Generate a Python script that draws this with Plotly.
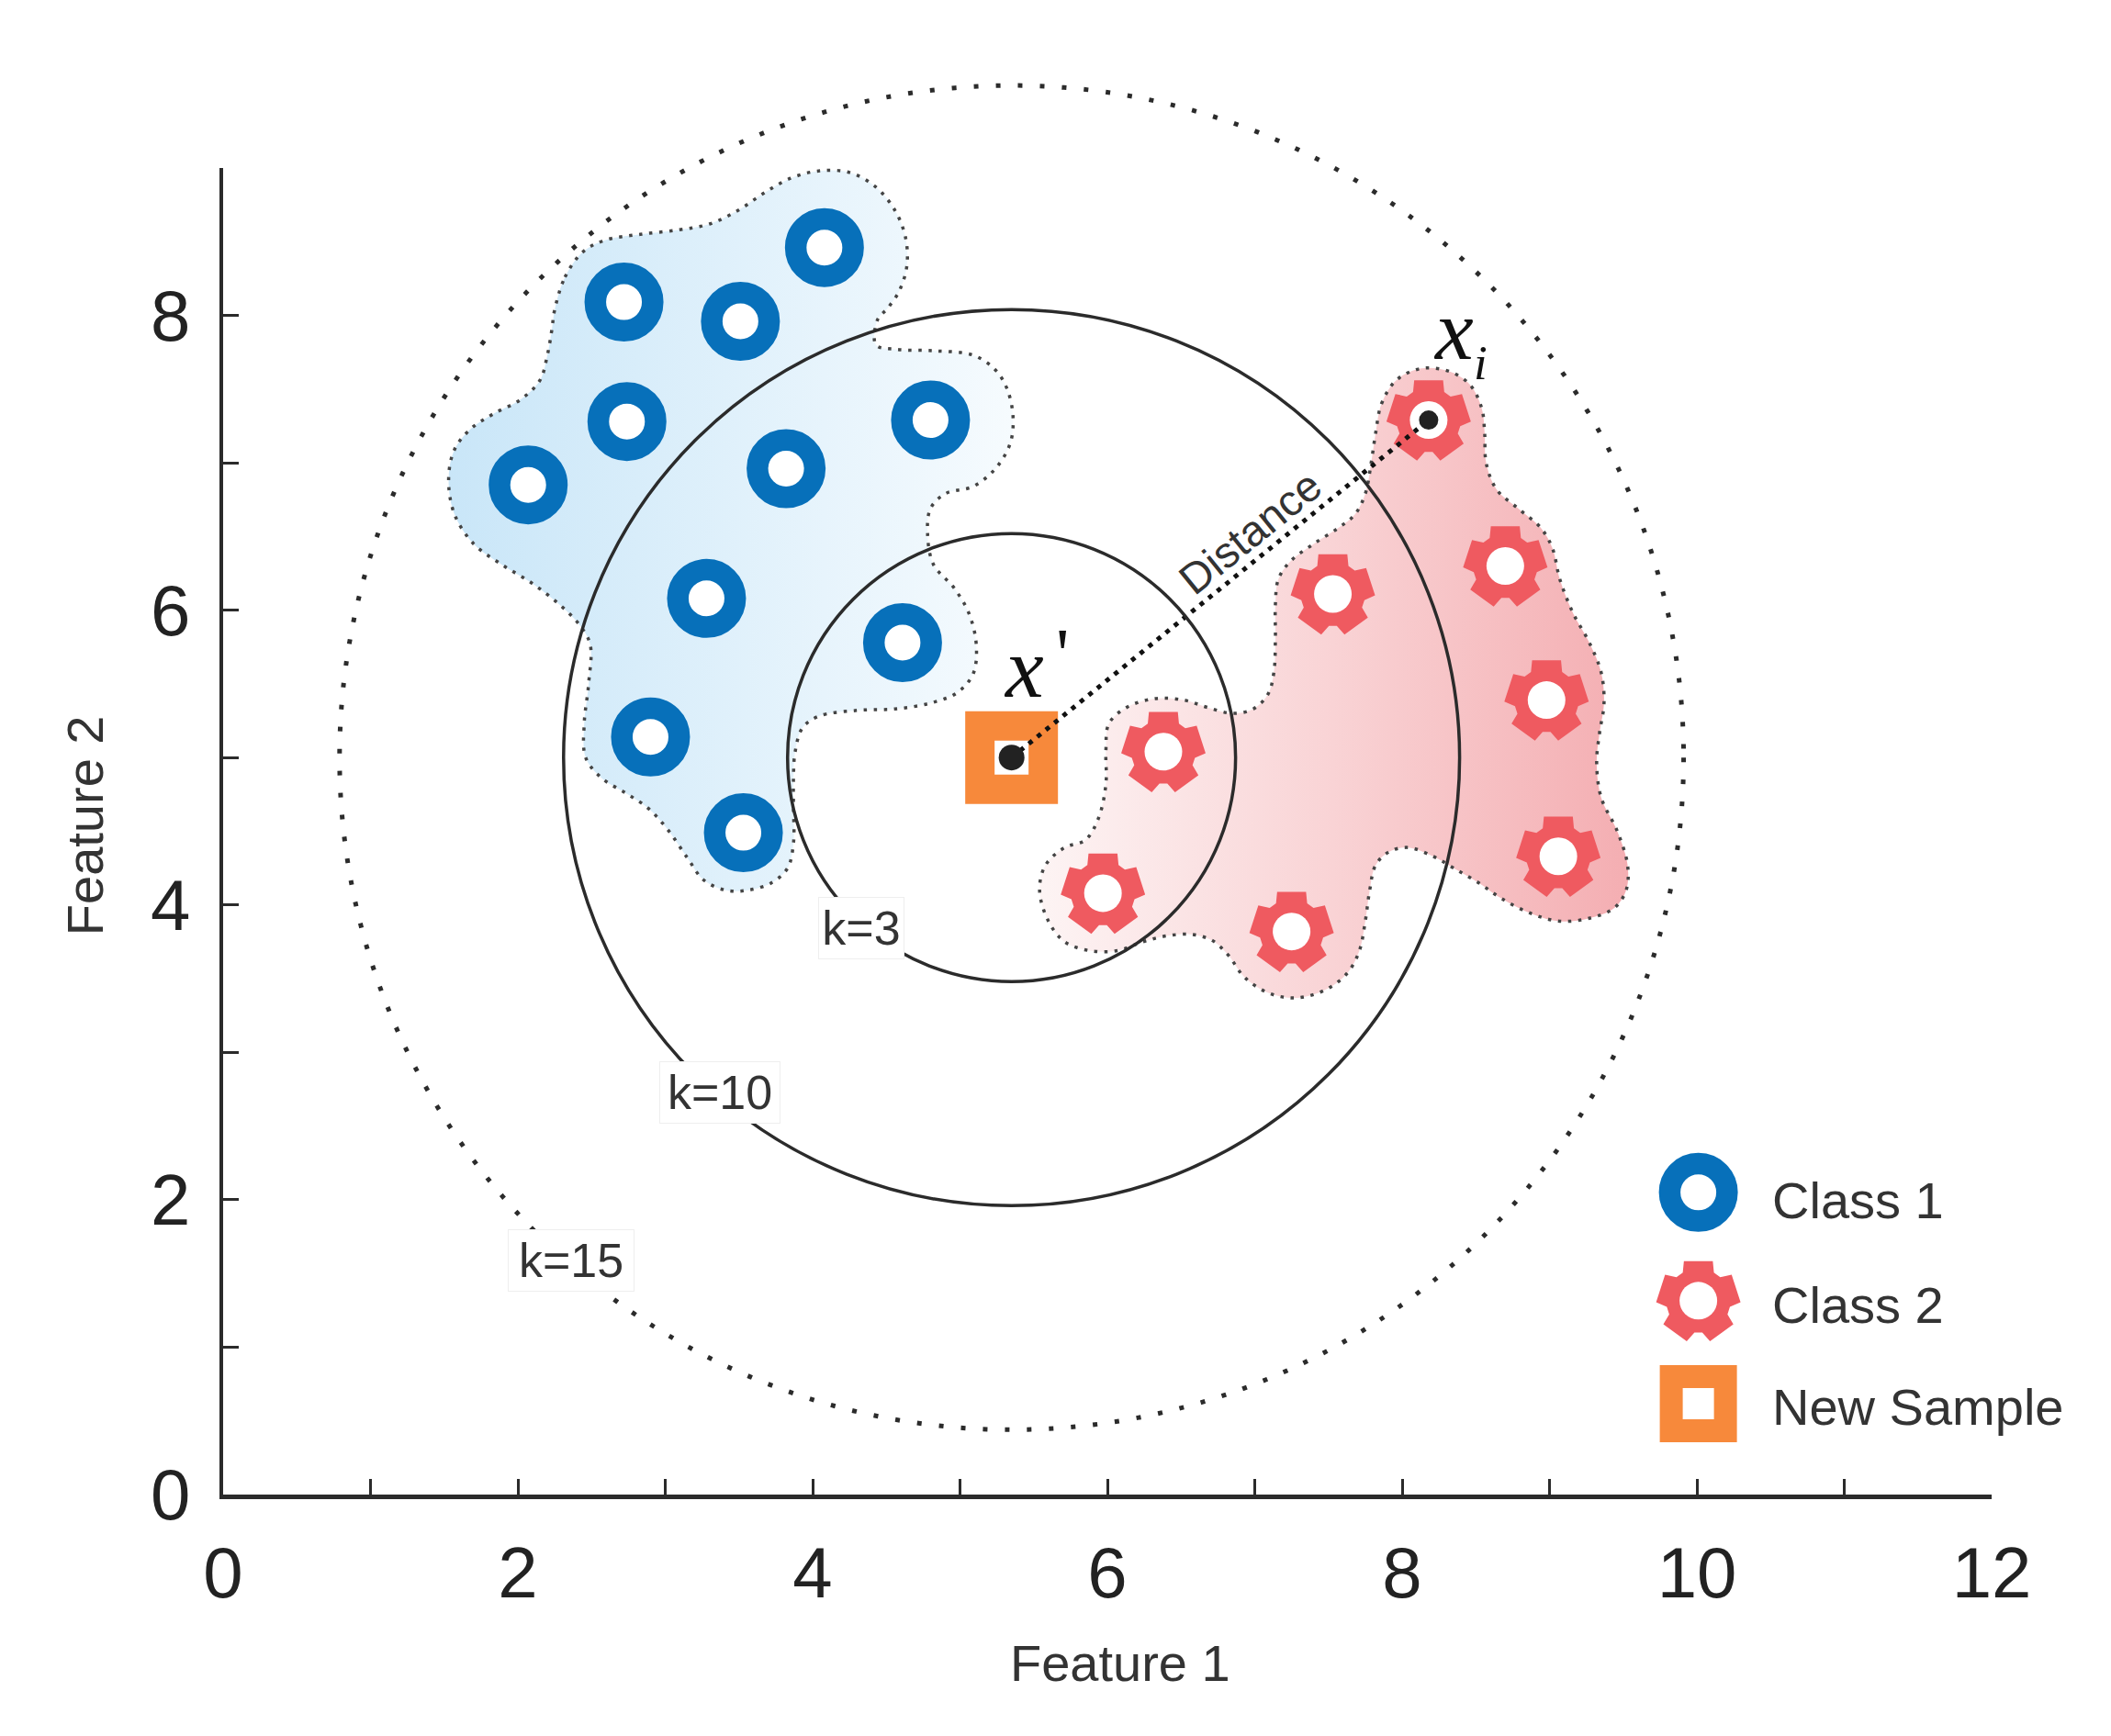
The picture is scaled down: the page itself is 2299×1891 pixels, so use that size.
import numpy as np
import plotly.graph_objects as go

# ---------------- data ----------------
class1_x = [4.08, 2.72, 3.51, 2.74, 2.07, 3.82, 4.80, 3.28, 4.61, 2.90, 3.53]
class1_y = [8.46, 8.09, 7.96, 7.28, 6.85, 6.96, 7.29, 6.08, 5.78, 5.14, 4.49]

class2_x = [8.18, 8.70, 7.53, 8.98, 6.38, 9.06, 5.97, 7.25]
class2_y = [7.29, 6.30, 6.11, 5.39, 5.04, 4.33, 4.08, 3.82]

new_sample_x = [5.35]
new_sample_y = [5.00]
xi_index = 0  # the class-2 point used as x_i

k_labels = ["k=3", "k=10", "k=15"]
k_radius = [1.52, 3.04, 4.56]
k_dash = ["solid", "solid", "5px,19px"]
k_label_x = [4.33, 3.37, 2.36]
k_label_y = [3.84, 2.73, 1.59]
k_label_w = [88, 126, 132]

blue_blob_x = [2.25, 2.32, 2.44, 2.59, 2.83, 3.09, 3.30, 3.49, 3.67, 3.85, 4.04, 4.25, 4.43,
               4.56, 4.63, 4.64, 4.59, 4.51, 4.44, 4.43, 4.56, 4.82, 5.09, 5.24, 5.32, 5.36,
               5.34, 5.24, 5.09, 4.90, 4.80, 4.78, 4.82, 4.96, 5.06, 5.11, 5.09, 4.98, 4.80,
               4.56, 4.30, 4.04, 3.93, 3.88, 3.87, 3.87, 3.87, 3.83, 3.72, 3.56, 3.41, 3.26,
               3.15, 3.01, 2.88, 2.73, 2.57, 2.46, 2.45, 2.48, 2.49, 2.41, 2.28, 2.10, 1.89,
               1.70, 1.57, 1.53, 1.57, 1.68, 1.83, 2.02, 2.15, 2.20, 2.23]
blue_blob_y = [8.04, 8.26, 8.43, 8.51, 8.55, 8.58, 8.62, 8.71, 8.83, 8.93, 8.98, 8.97, 8.87,
               8.71, 8.53, 8.34, 8.17, 8.05, 7.97, 7.80, 7.77, 7.76, 7.73, 7.63, 7.50, 7.31,
               7.13, 6.96, 6.84, 6.79, 6.69, 6.52, 6.31, 6.15, 5.98, 5.77, 5.57, 5.44, 5.37,
               5.33, 5.32, 5.28, 5.20, 5.03, 4.86, 4.66, 4.42, 4.25, 4.15, 4.10, 4.10, 4.17,
               4.32, 4.52, 4.66, 4.76, 4.86, 5.00, 5.23, 5.50, 5.77, 5.91, 6.04, 6.18, 6.31,
               6.45, 6.65, 6.89, 7.09, 7.23, 7.33, 7.43, 7.56, 7.73, 7.90]

red_blob_x = [7.82, 7.86, 7.96, 8.13, 8.32, 8.46, 8.54, 8.56, 8.57, 8.64, 8.80, 8.94, 9.02,
              9.07, 9.16, 9.27, 9.35, 9.37, 9.34, 9.32, 9.35, 9.46, 9.53, 9.52, 9.44, 9.27,
              9.07, 8.88, 8.68, 8.52, 8.35, 8.21, 8.04, 7.91, 7.82, 7.78, 7.75, 7.71, 7.63,
              7.49, 7.29, 7.10, 6.93, 6.82, 6.71, 6.57, 6.40, 6.24, 6.07, 5.88, 5.71, 5.60,
              5.54, 5.58, 5.71, 5.85, 5.94, 5.99, 5.99, 6.01, 6.13, 6.32, 6.52, 6.68, 6.85,
              6.99, 7.09, 7.13, 7.14, 7.14, 7.16, 7.24, 7.40, 7.57, 7.68, 7.75, 7.79]
red_blob_y = [7.20, 7.40, 7.56, 7.64, 7.62, 7.53, 7.37, 7.20, 7.00, 6.82, 6.68, 6.56, 6.42,
              6.21, 5.98, 5.78, 5.58, 5.37, 5.17, 4.97, 4.73, 4.50, 4.27, 4.10, 3.98, 3.91,
              3.89, 3.94, 4.04, 4.15, 4.25, 4.33, 4.39, 4.36, 4.27, 4.10, 3.89, 3.69, 3.54,
              3.43, 3.37, 3.40, 3.51, 3.66, 3.76, 3.80, 3.79, 3.75, 3.69, 3.69, 3.75, 3.89,
              4.10, 4.27, 4.39, 4.44, 4.59, 4.82, 5.05, 5.23, 5.34, 5.40, 5.39, 5.34, 5.30,
              5.33, 5.43, 5.58, 5.81, 6.04, 6.21, 6.33, 6.45, 6.56, 6.65, 6.79, 7.00]

legend_labels = ["Class 1", "Class 2", "New Sample"]
legend_marker_x = 10.01
legend_marker_y = [2.05, 1.315, 0.617]
legend_text_x = 10.50
legend_text_y = [1.995, 1.284, 0.592]

x_tick_vals = list(range(0, 13))
x_tick_text = [str(v) if v % 2 == 0 else "" for v in x_tick_vals]
y_tick_vals = list(range(0, 10))
y_tick_text = [str(v) if v % 2 == 0 and v < 9 else "" for v in y_tick_vals]

# ---------------- styling / layout constants ----------------
PAGE_OFFSET = 8                      # default body margin of the html page
W, H = 2299 - 2 * PAGE_OFFSET, 1891 - 2 * PAGE_OFFSET
PX_L, PX_R = 243 - PAGE_OFFSET, 2169 - PAGE_OFFSET
PX_T, PX_B = 183 - PAGE_OFFSET, 1628 - PAGE_OFFSET
X_MAX, Y_MAX = 12, 9
SX = (PX_R - PX_L) / X_MAX
SY = (PX_B - PX_T) / Y_MAX

BLUE = "#0770BA"
RED = "#EF5A60"
ORANGE = "#F7893B"
INK = "#2b2b2b"
FONT = "Liberation Sans"
SERIF = "Liberation Serif"

# gear glyph geometry (data units)
N_TEETH = 5
R_TIP = 46 / SX
R_ROOT = 35 / SX
TIP_HALF = np.radians(20)
ROOT_HALF = np.radians(29)


def gear_outline(cx, cy):
    xs, ys = [], []
    step = 2 * np.pi / N_TEETH
    for k in range(N_TEETH):
        th = np.pi / 2 + k * step
        for ang, r in [(th - ROOT_HALF, R_ROOT), (th - TIP_HALF, R_TIP),
                       (th + TIP_HALF, R_TIP), (th + ROOT_HALF, R_ROOT)]:
            xs.append(cx + r * np.cos(ang))
            ys.append(cy + r * np.sin(ang))
    xs.append(xs[0])
    ys.append(ys[0])
    return xs, ys


fig = go.Figure()

# invisible trace to keep the main axes subplot alive
fig.add_trace(go.Scatter(x=[0], y=[0], mode="markers", marker=dict(opacity=0),
                         showlegend=False, hoverinfo="skip", xaxis="x", yaxis="y"))

common = dict(xaxis="x2", yaxis="y2", showlegend=False, hoverinfo="skip")

# blobs
fig.add_trace(go.Scatter(
    x=blue_blob_x + blue_blob_x[:1], y=blue_blob_y + blue_blob_y[:1],
    mode="lines", fill="toself", line=dict(color="#444", width=3.5, dash="3.5px,7.5px", shape="spline", smoothing=1),
    fillgradient=dict(type="horizontal", colorscale=[[0, "#c9e6f8"], [1, "#f6fbfe"]], start=1.53, stop=5.36),
    **common))
fig.add_trace(go.Scatter(
    x=red_blob_x + red_blob_x[:1], y=red_blob_y + red_blob_y[:1],
    mode="lines", fill="toself", line=dict(color="#444", width=3.5, dash="3.5px,7.5px", shape="spline", smoothing=1),
    fillgradient=dict(type="horizontal", colorscale=[[0, "#fdf4f4"], [0.5, "#f9d3d5"], [1, "#f4aeb2"]], start=5.54, stop=9.53),
    **common))

# class 1 rings
fig.add_trace(go.Scatter(
    x=class1_x, y=class1_y, mode="markers",
    marker=dict(symbol="circle", size=62.5, color="white", line=dict(color=BLUE, width=23.5)),
    **common))

# class 2 gears
gx, gy = [], []
for cx, cy in zip(class2_x + [legend_marker_x], class2_y + [legend_marker_y[1]]):
    ox, oy = gear_outline(cx, cy)
    gx += ox + [None]
    gy += oy + [None]
fig.add_trace(go.Scatter(x=gx, y=gy, mode="lines", fill="toself", fillcolor=RED,
                         line=dict(width=0, color=RED), **common))
fig.add_trace(go.Scatter(
    x=class2_x + [legend_marker_x], y=class2_y + [legend_marker_y[1]], mode="markers",
    marker=dict(symbol="circle", size=41, color="white", line=dict(width=0)), **common))

# new sample square
fig.add_trace(go.Scatter(
    x=new_sample_x, y=new_sample_y, mode="markers",
    marker=dict(symbol="square", size=69, color="white", line=dict(color=ORANGE, width=32)),
    **common))

# distance line
fig.add_trace(go.Scatter(
    x=[new_sample_x[0], class2_x[xi_index]], y=[new_sample_y[0], class2_y[xi_index]],
    mode="lines", line=dict(color="#111", width=5, dash="5px,7px"), **common))

# centre dots
fig.add_trace(go.Scatter(
    x=[class2_x[xi_index]], y=[class2_y[xi_index]], mode="markers",
    marker=dict(symbol="circle", size=25, color="#222", line=dict(color="white", width=4)), **common))
fig.add_trace(go.Scatter(
    x=new_sample_x, y=new_sample_y, mode="markers",
    marker=dict(symbol="circle", size=28, color="#222", line=dict(width=0)), **common))

# legend glyphs
fig.add_trace(go.Scatter(
    x=[legend_marker_x], y=[legend_marker_y[0]], mode="markers",
    marker=dict(symbol="circle", size=62.5, color="white", line=dict(color=BLUE, width=23.5)), **common))
fig.add_trace(go.Scatter(
    x=[legend_marker_x], y=[legend_marker_y[2]], mode="markers",
    marker=dict(symbol="square", size=59, color="white", line=dict(color=ORANGE, width=25)), **common))

# k circles
shapes = []
for r, d in zip(k_radius, k_dash):
    shapes.append(dict(type="circle", xref="x2", yref="y2",
                       x0=new_sample_x[0] - r, x1=new_sample_x[0] + r,
                       y0=new_sample_y[0] - r, y1=new_sample_y[0] + r,
                       line=dict(color=INK, width=(3.5 if d == "solid" else 5), dash=d),
                       layer="above"))

annotations = []
for t, x, y, w in zip(k_labels, k_label_x, k_label_y, k_label_w):
    annotations.append(dict(x=x, y=y, xref="x2", yref="y2", text=t, showarrow=False,
                            font=dict(family=FONT, size=52, color="#333"),
                            bgcolor="white", bordercolor="#eeeeee", borderwidth=1,
                            borderpad=2, width=w, height=62))

annotations.append(dict(x=6.97, y=6.53, xref="x2", yref="y2", text="Distance", showarrow=False,
                        textangle=-39, font=dict(family=FONT, size=47, color="#333")))

annotations.append(dict(x=5.433, y=5.611, xref="x2", yref="y2", text="<i>x</i>", showarrow=False,
                        font=dict(family=SERIF, size=94, color="#111")))
annotations.append(dict(x=5.695, y=5.70, xref="x2", yref="y2", text="'", showarrow=False,
                        font=dict(family=SERIF, size=80, color="#111")))
annotations.append(dict(x=8.346, y=7.905, xref="x2", yref="y2", text="<i>x</i>", showarrow=False,
                        font=dict(family=SERIF, size=94, color="#111")))
annotations.append(dict(x=8.534, y=7.677, xref="x2", yref="y2", text="<i>i</i>", showarrow=False,
                        font=dict(family=SERIF, size=53, color="#111")))

for t, y in zip(legend_labels, legend_text_y):
    annotations.append(dict(x=legend_text_x, y=y, xref="x2", yref="y2", text=t, showarrow=False,
                            xanchor="left", font=dict(family=FONT, size=56, color="#333")))

# axis titles
annotations.append(dict(x=6.09, y=-1.14, xref="x2", yref="y2", text="Feature 1", showarrow=False,
                        font=dict(family=FONT, size=56, color="#333")))
annotations.append(dict(x=-0.94, y=4.54, xref="x2", yref="y2", text="Feature 2", showarrow=False,
                        textangle=-90, font=dict(family=FONT, size=56, color="#333")))

axis_common = dict(showgrid=False, zeroline=False, showline=True, linecolor=INK,
                   ticks="inside", ticklen=17, tickwidth=3, tickcolor=INK,
                   tickfont=dict(family=FONT, size=78, color="#222"), fixedrange=True,
                   automargin=False)

fig.update_layout(
    width=W, height=H, template="none",
    margin=dict(l=0, r=0, t=0, b=0, pad=0),
    paper_bgcolor="white", plot_bgcolor="rgba(0,0,0,0)",
    xaxis=dict(domain=[PX_L / W, PX_R / W], range=[0, X_MAX], tickmode="array",
               tickvals=x_tick_vals, ticktext=x_tick_text, linewidth=5, anchor="y",
               ticklabelstandoff=13, **axis_common),
    yaxis=dict(domain=[(H - PX_B) / H, (H - PX_T) / H], range=[0, Y_MAX], tickmode="array",
               tickvals=y_tick_vals, ticktext=y_tick_text, linewidth=4, anchor="x",
               ticklabelstandoff=16, **axis_common),
    xaxis2=dict(domain=[0, 1], range=[-PX_L / SX, X_MAX + (W - PX_R) / SX], visible=False,
                anchor="y2", fixedrange=True),
    yaxis2=dict(domain=[0, 1], range=[-(H - PX_B) / SY, Y_MAX + PX_T / SY], visible=False,
                anchor="x2", fixedrange=True),
    shapes=shapes,
    annotations=annotations,
    showlegend=False,
)

fig.write_html("out.html")
